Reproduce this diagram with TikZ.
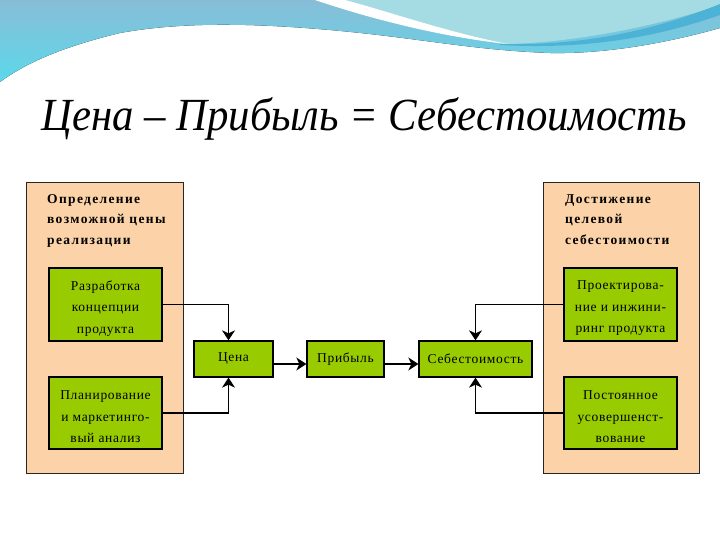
\documentclass[tikz,border=0pt]{standalone}
\usepackage{fontspec}
\setmainfont{Liberation Serif}
\usetikzlibrary{arrows.meta}
\definecolor{peach}{HTML}{FCD3A8}
\definecolor{lime}{HTML}{99CC00}
\definecolor{wavetop}{HTML}{88BDD7}
\definecolor{wavebot}{HTML}{5CD8EA}
\definecolor{wavelight}{HTML}{A5DCE4}
\definecolor{wavedark}{HTML}{4DB3D6}
\newcommand{\lowtext}[1]{\raisebox{-4pt}[\height][\depth]{\parbox{110pt}{\centering #1}}}
\begin{document}
\begin{tikzpicture}[x=1pt,y=-1pt,
  outer/.style={draw=black!85, line width=0.8pt, fill=peach, inner sep=0pt},
  greenbox/.style={draw=black, line width=1.3pt, fill=lime, align=center, inner sep=0pt,
    font=\fontsize{13.5}{21.5}\selectfont\addfontfeature{LetterSpace=5}},
  hdr/.style={font=\bfseries\fontsize{13.5}{20.5}\selectfont\addfontfeature{LetterSpace=10},
    align=left, anchor=north west, inner sep=0pt},
  conn/.style={line width=1.2pt},
  arr/.style={conn, -{Stealth[length=10pt,width=13pt,inset=3pt]}}]
\useasboundingbox (0,0) rectangle (720,540);
% background wave
\fill[top color=wavetop, bottom color=wavebot]
  (0,0) -- (720,0) -- (720,28)
  .. controls (660,45) and (600,54) .. (550,53)
  .. controls (470,50) and (420,38) .. (330,30)
  .. controls (250,23) and (180,22) .. (120,33)
  .. controls (70,45) and (30,60) .. (0,82) -- cycle;
\fill[wavelight] (318,0) .. controls (380,20) and (450,38) .. (508,44)
  .. controls (580,42) and (660,25) .. (720,5) -- (720,0) -- cycle;
\fill[white] (315,0) .. controls (380,22) and (450,38) .. (508,44)
  .. controls (450,33) and (390,12) .. (345,0) -- cycle;
\fill[wavedark] (500,44) .. controls (590,46) and (660,28) .. (720,4)
  -- (720,15) .. controls (660,36) and (590,50) .. (500,45) -- cycle;
% title
\node[inner sep=0pt, font=\itshape\fontsize{46}{46}\selectfont] (title) at (364,119)
  {\scalebox{0.93}[1]{Цена – Прибыль = Себестоимость}};
% outer boxes
\node[outer, minimum width=157, minimum height=291] (L) at (104.5,327.5) {};
\node[outer, minimum width=156, minimum height=291] (R) at (621,327.5) {};
\node[hdr] (Lh) at (47,194) {Определение\\возможной цены\\реализации};
\node[hdr] (Rh) at (565,194) {Достижение\\целевой\\себестоимости};
% inner boxes
\node[greenbox, minimum width=113, minimum height=73] (LA) at (105.5,304.5)
  {\lowtext{Разработка\\концепции\\продукта}};
\node[greenbox, minimum width=113, minimum height=72] (LB) at (105.5,413)
  {\lowtext{Планирование\\и маркетинго-\\вый анализ}};
\node[greenbox, minimum width=113, minimum height=73] (RA) at (620.5,304.5)
  {\lowtext{Проектирова-\\ние и инжини-\\ринг продукта}};
\node[greenbox, minimum width=113, minimum height=72] (RB) at (620.5,413)
  {\lowtext{Постоянное\\усовершенст-\\вование}};
% middle row
\node[greenbox, minimum width=79, minimum height=36] (C) at (233.5,359) {Цена};
\node[greenbox, minimum width=77, minimum height=36] (P) at (345.5,359) {Прибыль};
\node[greenbox, minimum width=113, minimum height=36] (S) at (475.5,359) {Себестоимость};
% connectors
\draw[arr] (LA.east) -| ([xshift=-5pt]C.north);
\draw[arr] (LB.east) -| ([xshift=-5pt]C.south);
\draw[arr] (RA.west) -| (S.north);
\draw[arr] (RB.west) -| (S.south);
\draw[arr] ([yshift=-5pt]C.east) -- ([yshift=-5pt]P.west);
\draw[arr] ([yshift=-5pt]P.east) -- ([yshift=-5pt]S.west);
\end{tikzpicture}
\end{document}
